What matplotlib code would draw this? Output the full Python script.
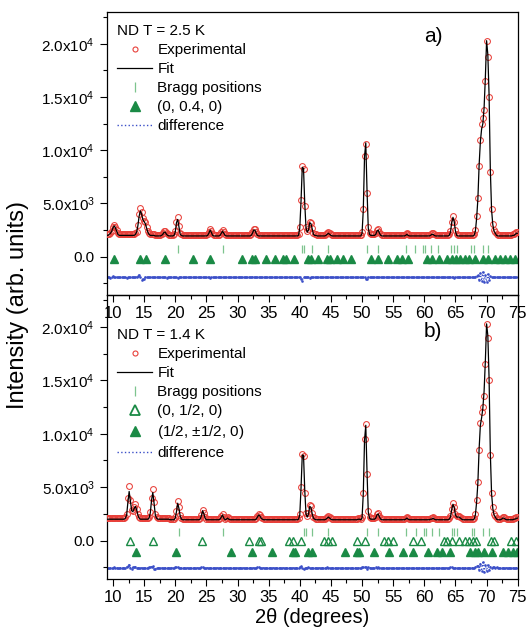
import numpy as np
import matplotlib.pyplot as plt
from matplotlib.ticker import MultipleLocator, FixedLocator, FixedFormatter
from matplotlib.lines import Line2D

plt.rcParams['font.family'] = ['Liberation Sans', 'DejaVu Sans']
plt.rcParams['mathtext.fontset'] = 'custom'
plt.rcParams['mathtext.rm'] = 'Liberation Sans'
plt.rcParams['mathtext.it'] = 'Liberation Sans:italic'

# 2theta grid of the measurement (step 0.2 deg)
tth = np.round(np.arange(9.0, 75.01, 0.2), 1)

# ---- panel a) T = 2.5 K, intensities in units of 100 counts, one row per degree
obs_a = [
    21, 21, 21, 22, 24,  28, 30, 28, 25, 22,  21, 21, 21, 21, 21,  21, 21, 21, 21, 21,   # 9-12
    21, 21, 21, 22, 23,  30, 40, 46, 42, 36,  34, 33, 28, 24, 22,  21, 21, 21, 21, 20,   # 13-16
    20, 20, 20, 20, 21,  22, 24, 24, 22, 21,  20, 20, 20, 20, 21,  24, 33, 37, 29, 22,   # 17-20
    21, 20, 20, 20, 20,  20, 20, 20, 20, 20,  20, 20, 20, 20, 20,  20, 20, 20, 20, 20,   # 21-24
    20, 21, 23, 26, 24,  21, 20, 20, 20, 20,  20, 21, 23, 25, 23,  21, 20, 20, 20, 20,   # 25-28
    20, 20, 20, 20, 20,  20, 20, 20, 20, 20,  20, 20, 20, 20, 20,  20, 21, 23, 26, 26,   # 29-32
    23, 21, 20, 20, 20,  20, 20, 20, 20, 20,  20, 20, 20, 20, 20,  20, 20, 20, 20, 20,   # 33-36
    20, 20, 20, 20, 20,  20, 20, 20, 20, 20,  20, 20, 20, 20, 21,  28, 53, 85, 82, 48,   # 37-40
    28, 24, 26, 33, 32,  27, 22, 21, 21, 20,  20, 20, 20, 20, 20,  20, 21, 22, 23, 22,   # 41-44
    21, 20, 20, 20, 20,  20, 20, 20, 20, 20,  20, 20, 20, 20, 20,  20, 20, 20, 20, 20,   # 45-48
    20, 20, 20, 20, 20,  23, 45, 95, 106, 60, 28, 22, 21, 21, 21,  21, 22, 25, 26, 23,   # 49-52
    21, 20, 20, 20, 20,  20, 20, 20, 20, 20,  20, 20, 20, 20, 20,  20, 20, 20, 20, 20,   # 53-56
    21, 22, 21, 20, 20,  20, 20, 20, 20, 20,  20, 20, 20, 20, 20,  20, 20, 20, 20, 20,   # 57-60
    21, 22, 22, 21, 20,  20, 20, 20, 20, 20,  20, 20, 20, 20, 20,  21, 24, 33, 38, 33,   # 61-64
    25, 21, 20, 20, 20,  20, 20, 20, 20, 20,  20, 20, 20, 20, 20,  21, 25, 38, 55, 85,   # 65-68
    110, 125, 130, 138, 165,  203, 188, 150, 80, 45,  31, 25, 23, 21, 20,  20, 20, 20, 20, 20,  # 69-72
    20, 20, 20, 20, 20,  20, 21, 21, 22, 23,  23]                                         # 73-75
calc_a = [
    20, 20, 21, 22, 24,  27, 29, 27, 24, 21,  20, 20, 20, 20, 20,  20, 20, 20, 20, 20,
    20, 20, 20, 21, 23,  29, 38, 43, 40, 35,  33, 31, 27, 23, 21,  20, 20, 20, 20, 19.5,
    19.5, 19.5, 19.5, 19.5, 20,  21, 23, 23, 21, 20,  19.5, 19.5, 19.5, 19.5, 20,  23, 32, 35, 28, 21,
    20, 19.5, 19.5, 19.5, 19.5,  19.5, 19.5, 19.5, 19.5, 19.5,  19.5, 19.5, 19.5, 19.5, 19.5,  19.5, 19.5, 19.5, 19.5, 19.5,
    19.5, 20, 22, 25, 23,  20, 19.5, 19.5, 19.5, 19.5,  19.5, 20, 22, 24, 22,  20, 19.5, 19.5, 19.5, 19.5,
    19.5, 19.5, 19.5, 19.5, 19.5,  19.5, 19.5, 19.5, 19.5, 19.5,  19.5, 19.5, 19.5, 19.5, 19.5,  19.5, 20, 22, 25, 25,
    22, 20, 19.5, 19.5, 19.5,  19.5, 19.5, 19.5, 19.5, 19.5,  19.5, 19.5, 19.5, 19.5, 19.5,  19.5, 19.5, 19.5, 19.5, 19.5,
    19.5, 19.5, 19.5, 19.5, 19.5,  19.5, 19.5, 19.5, 19.5, 19.5,  19.5, 19.5, 19.5, 19.5, 20,  27, 52, 84, 83, 50,
    27, 23, 25, 32, 31,  26, 21, 20, 20, 19.5,  19.5, 19.5, 19.5, 19.5, 19.5,  19.5, 20, 21, 22, 21,
    20, 19.5, 19.5, 19.5, 19.5,  19.5, 19.5, 19.5, 19.5, 19.5,  19.5, 19.5, 19.5, 19.5, 19.5,  19.5, 19.5, 19.5, 19.5, 19.5,
    19.5, 19.5, 19.5, 19.5, 19.5,  22, 44, 94, 107, 62,  27, 21, 20, 20, 20,  20, 21, 24, 25, 22,
    20, 19.5, 19.5, 19.5, 19.5,  19.5, 19.5, 19.5, 19.5, 19.5,  19.5, 19.5, 19.5, 19.5, 19.5,  19.5, 19.5, 19.5, 19.5, 19.5,
    20, 21, 20, 19.5, 19.5,  19.5, 19.5, 19.5, 19.5, 19.5,  19.5, 19.5, 19.5, 19.5, 19.5,  19.5, 19.5, 19.5, 19.5, 19.5,
    20, 21, 21, 20, 19.5,  19.5, 19.5, 19.5, 19.5, 19.5,  19.5, 19.5, 19.5, 19.5, 19.5,  20, 23, 32, 37, 33,
    24, 20, 19.5, 19.5, 19.5,  19.5, 19.5, 19.5, 19.5, 19.5,  19.5, 19.5, 19.5, 19.5, 19.5,  20, 24, 36, 54, 86,
    108, 120, 125, 140, 168,  203, 190, 152, 82, 44,  30, 24, 22, 20, 19.5,  19.5, 19.5, 19.5, 19.5, 19.5,
    19.5, 19.5, 19.5, 19.5, 19.5,  19.5, 20, 20, 21, 22,  22]
resid_a = [
    0, 0.3, 0, -0.3, 0,  1, 0.5, 0.5, 0, 0,  0, 0, 0.2, 0, 0,  0, -0.2, 0, 0, 0,
    0, 0, 0.3, 0.5, 0.5,  1.5, 2.5, 0, -2, -1.5,  -1, 0.5, 0, 0, 0,  0, 0, 0.2, 0, 0,
    0, 0.2, 0, 0, 0,  0.3, 0, 0, -0.3, 0,  0, 0, 0, 0, 0,  0.3, 0.5, -0.5, 0, 0,
    0, 0, 0, 0.2, 0,  0, 0, 0, 0, 0.2,  0, 0, 0, 0, 0,  0, 0, 0.2, 0, 0,
    0, 0, 0.3, -0.3, 0,  0, 0, 0, 0, 0,  0, 0.2, 0, 0, 0,  0, 0, 0, 0, 0,
    0, 0, 0, 0, 0,  0, 0, 0, 0, 0,  0, 0, 0, 0, 0,  0, 0.3, 0.5, 0, 0,
    0, 0, 0, 0, 0,  0, 0, 0, 0.2, 0,  0, 0, 0, 0, 0,  0, 0, 0, 0, 0,
    0, 0, 0, 0, 0,  0, 0, 0, 0, 0,  0, 0, 0, 0, 0,  0, -1, -3, 0.5, 0,
    0, 0, 0.5, -0.5, 0,  0, 0, 0, 0, 0,  0, 0, 0, 0, 0,  0, 0, 0.3, 0, 0,
    0, 0, 0, 0, 0,  0, 0, 0, 0, 0,  0, 0, 0, 0, 0,  0, 0, 0, 0, 0,
    0, 0, 0, 0, 0,  0.5, 0, 0.5, -1, -1.5,  0.5, 0, 0, 0, 0,  0, 0.5, 0, 0.3, 0,
    0, 0, 0, 0, 0,  0, 0, 0, 0, 0,  0, 0, 0, 0, 0,  0, 0, 0, 0, 0,
    0, 0, 0, 0, 0,  0, 0, 0, 0, 0,  0, 0, 0, 0, 0,  0, 0, 0, 0, 0,
    0, 0.3, 0, 0, 0,  0, 0, 0, 0, 0,  0, 0, 0, 0, 0,  0, 0.5, 0.5, 0, -0.5,
    0, 0, 0, 0, 0,  0, 0, 0, 0, 0,  0, 0, 0, 0, 0,  0, 0.5, 1.5, 2, -2,
    4, -3, 5, -4, 2,  -4, 3, -2, 1, 0,  0.5, 0.3, 0, 0.3, 0,  0, 0, 0, 0, 0,
    0, 0, 0, 0, 0,  0, 0, 0, 0, 0,  0]

bragg_a = [20.5, 27.6, 40.4, 40.7, 41.9, 44.5, 50.8, 52.5, 57.1, 58.5, 59.8, 60.1, 61.1,
           62.2, 64.3, 64.7, 65.2, 67.5, 67.9, 69.4, 70.2]
mag_a = [10.1, 14.3, 15.3, 18.4, 22.9, 25.6, 30.8, 32.3, 32.8, 34.6, 36.1, 37.3, 37.8, 39.1,
         41.4, 41.8, 43.0, 44.3, 44.8, 45.9, 46.9, 48.2, 51.4, 52.6, 54.2, 55.6, 56.4, 57.3,
         60.4, 61.2, 62.3, 63.6, 64.4, 65.1, 65.7, 66.5, 67.1, 68.2, 69.5, 70.3, 71.4, 72.2,
         73.0, 73.8, 74.6]

# ---- panel b) T = 1.4 K
obs_b = [
    21, 21, 21, 21, 21,  21, 21, 21, 21, 21,  21, 21, 21, 21, 21,  22, 25, 40, 51, 38,   # 9-12
    29, 28, 31, 34, 30,  25, 22, 21, 21, 21,  21, 21, 21, 21, 22,  27, 40, 48, 36, 25,   # 13-16
    22, 21, 21, 21, 21,  21, 21, 21, 21, 21,  21, 20, 20, 20, 20,  22, 28, 37, 31, 24,   # 17-20
    21, 20, 20, 20, 20,  20, 20, 20, 20, 20,  20, 20, 20, 20, 20,  21, 24, 29, 26, 22,   # 21-24
    20, 20, 20, 20, 20,  20, 20, 20, 20, 20,  20, 21, 23, 25, 22,  20, 21, 22, 21, 20,   # 25-28
    20, 20, 20, 20, 20,  20, 20, 20, 20, 20,  20, 20, 20, 20, 20,  20, 20, 20, 20, 20,   # 29-32
    21, 23, 25, 24, 22,  21, 20, 20, 20, 20,  20, 20, 20, 20, 20,  20, 20, 20, 20, 20,   # 33-36
    20, 20, 20, 20, 20,  20, 20, 20, 20, 20,  20, 20, 20, 20, 21,  25, 50, 81, 79, 45,   # 37-40
    26, 23, 26, 33, 32,  26, 22, 21, 20, 20,  20, 20, 20, 20, 20,  20, 21, 22, 23, 22,   # 41-44
    21, 20, 20, 20, 20,  20, 20, 20, 20, 20,  20, 20, 20, 20, 20,  20, 20, 20, 20, 20,   # 45-48
    20, 20, 21, 21, 20,  22, 45, 95, 109, 62, 28, 22, 21, 21, 21,  21, 22, 25, 26, 23,   # 49-52
    21, 20, 20, 20, 20,  20, 20, 20, 20, 20,  20, 20, 20, 20, 20,  20, 20, 20, 20, 20,   # 53-56
    21, 22, 21, 20, 20,  20, 20, 20, 20, 20,  20, 20, 20, 20, 20,  20, 20, 20, 20, 20,   # 57-60
    21, 21, 22, 21, 20,  20, 20, 20, 20, 20,  20, 20, 20, 20, 20,  21, 23, 30, 35, 31,   # 61-64
    25, 23, 23, 23, 22,  21, 20, 20, 20, 20,  20, 20, 20, 20, 20,  21, 25, 38, 55, 85,   # 65-68
    110, 120, 125, 135, 165,  203, 190, 150, 80, 45,  31, 25, 23, 21, 20,  20, 20, 21, 22, 22,  # 69-72
    21, 20, 20, 20, 20,  20, 20, 21, 21, 22,  22]                                         # 73-75
calc_b = [
    20, 20, 20, 20, 20,  20, 20, 20, 20, 20,  20, 20, 20, 20, 20,  21, 24, 36, 46, 37,
    28, 27, 30, 32, 29,  24, 21, 20, 20, 20,  20, 20, 20, 20, 21,  26, 38, 45, 35, 24,
    21, 20, 20, 20, 20,  20, 20, 20, 20, 20,  20, 19.5, 19.5, 19.5, 19.5,  21, 27, 35, 30, 23,
    20, 19.5, 19.5, 19.5, 19.5,  19.5, 19.5, 19.5, 19.5, 19.5,  19.5, 19.5, 19.5, 19.5, 19.5,  20, 23, 28, 25, 21,
    19.5, 19.5, 19.5, 19.5, 19.5,  19.5, 19.5, 19.5, 19.5, 19.5,  19.5, 20, 22, 24, 21,  19.5, 20, 21, 20, 19.5,
    19.5, 19.5, 19.5, 19.5, 19.5,  19.5, 19.5, 19.5, 19.5, 19.5,  19.5, 19.5, 19.5, 19.5, 19.5,  19.5, 19.5, 19.5, 19.5, 19.5,
    20, 22, 24, 23, 21,  20, 19.5, 19.5, 19.5, 19.5,  19.5, 19.5, 19.5, 19.5, 19.5,  19.5, 19.5, 19.5, 19.5, 19.5,
    19.5, 19.5, 19.5, 19.5, 19.5,  19.5, 19.5, 19.5, 19.5, 19.5,  19.5, 19.5, 19.5, 19.5, 20,  24, 49, 80, 80, 47,
    25, 22, 25, 32, 31,  25, 21, 20, 19.5, 19.5,  19.5, 19.5, 19.5, 19.5, 19.5,  19.5, 20, 21, 22, 21,
    20, 19.5, 19.5, 19.5, 19.5,  19.5, 19.5, 19.5, 19.5, 19.5,  19.5, 19.5, 19.5, 19.5, 19.5,  19.5, 19.5, 19.5, 19.5, 19.5,
    19.5, 19.5, 20, 20, 19.5,  21, 44, 94, 108, 64,  27, 21, 20, 20, 20,  20, 21, 24, 25, 22,
    20, 19.5, 19.5, 19.5, 19.5,  19.5, 19.5, 19.5, 19.5, 19.5,  19.5, 19.5, 19.5, 19.5, 19.5,  19.5, 19.5, 19.5, 19.5, 19.5,
    20, 21, 20, 19.5, 19.5,  19.5, 19.5, 19.5, 19.5, 19.5,  19.5, 19.5, 19.5, 19.5, 19.5,  19.5, 19.5, 19.5, 19.5, 19.5,
    20, 20, 21, 20, 19.5,  19.5, 19.5, 19.5, 19.5, 19.5,  19.5, 19.5, 19.5, 19.5, 19.5,  20, 22, 29, 34, 31,
    24, 22, 22, 22, 21,  20, 19.5, 19.5, 19.5, 19.5,  19.5, 19.5, 19.5, 19.5, 19.5,  20, 24, 36, 54, 86,
    108, 115, 124, 140, 168,  203, 192, 152, 82, 44,  30, 24, 22, 20, 19.5,  19.5, 19.5, 20, 21, 21,
    20, 19.5, 19.5, 19.5, 19.5,  19.5, 19.5, 20, 20, 21,  21]
resid_b = [
    0, 0.2, 0, -0.2, 0,  0, 0.3, 0, 0, 0,  0, 0, 0.2, 0, 0,  0, 0.5, 2, 3, 0,
    -1, 0.5, 0.5, 1, 0,  0, 0, 0, 0, 0,  0, 0, 0, 0.2, 0.3,  0.5, 1, 1.5, -1, -1.5,
    0, 0, 0, 0.2, 0,  0, 0, 0, 0, 0,  0, 0, 0.2, 0, 0,  0.3, 0.5, 0.8, -0.5, 0,
    0, 0, 0, 0, 0,  0, 0.2, 0, 0, 0,  0, 0, 0, 0, 0,  0, 0.3, 0.5, 0, 0,
    0, 0, 0, 0, 0,  0, 0, 0, 0.2, 0,  0, 0, 0.2, 0, 0,  0, 0, 0, 0, 0,
    0, 0, 0, 0, 0,  0, 0, 0, 0, 0,  0, 0, 0, 0, 0,  0, 0, 0, 0, 0,
    0, 0.3, 0.5, 0.2, 0,  0, 0, 0, 0, 0,  0, 0, 0, 0, 0,  0, 0, 0, 0, 0,
    0, 0, 0, 0, 0,  0, 0, 0, 0, 0,  0, 0, 0, 0, 0,  0.5, 2, 0, -1.5, -0.5,
    0, 0, 0.5, -0.3, 0,  0, 0, 0, 0, 0,  0, 0, 0, 0, 0,  0, 0, 0.3, 0, 0,
    0, 0, 0, 0, 0,  0, 0, 0, 0, 0,  0, 0, 0, 0, 0,  0, 0, 0, 0, 0,
    0, 0, 0, 0, 0,  0.5, 0.3, 0.5, 0.5, -1,  0.5, 0, 0, 0, 0,  0, 0.5, 0, 0.3, 0,
    0, 0, 0, 0, 0,  0, 0, 0, 0, 0,  0, 0, 0, 0, 0,  0, 0, 0, 0, 0,
    0, 0, 0, 0, 0,  0, 0, 0, 0, 0,  0, 0, 0, 0, 0,  0, 0, 0, 0, 0,
    0, 0, 0, 0, 0,  0, 0, 0, 0, 0,  0, 0, 0, 0, 0,  0, 0.5, 0.5, 0, -0.5,
    0, 0, 0, 0, 0,  0, 0, 0, 0, 0,  0, 0, 0, 0, 0,  0, 0.5, 1.5, 2, -2,
    4, -3, 5, -4, 3,  -3, 3, -2, 1, 0,  0.5, 0.3, 0, 0.3, 0,  0, 0, 0, 0, 0,
    0, 0, 0, 0, 0,  0, 0, 0, 0, 0,  0]

bragg_b = [20.6, 27.7, 40.6, 41.0, 41.9, 44.6, 50.8, 52.6, 57.1, 58.7, 59.9, 60.2, 61.2,
           62.3, 64.4, 64.8, 65.3, 67.6, 68.0, 69.5, 70.4]
mag_b1 = [12.8, 16.4, 24.3, 31.9, 33.4, 33.8, 38.2, 38.9, 40.2, 43.9, 44.6, 45.1, 49.2,
          50.5, 53.5, 54.1, 54.9, 58.2, 59.4, 63.1, 63.7, 64.4, 65.6, 66.5, 67.2, 67.8,
          68.3, 70.7, 71.2, 74.0, 74.8]
mag_b2 = [13.7, 20.2, 28.9, 32.3, 35.6, 38.9, 39.3, 41.4, 42.0, 47.3, 49.2, 49.5, 52.0,
          54.4, 56.5, 58.2, 60.6, 62.1, 62.9, 64.1, 67.4, 68.2, 68.7, 69.6, 70.8, 72.7,
          73.5, 74.3, 74.9]

red = '#e8403a'
green = '#1a8a45'
lgreen = '#7dc48e'
blue = '#3b4fc8'

fig = plt.figure(figsize=(5.31, 6.29), dpi=100)
ax1 = fig.add_axes([0.201, 0.531, 0.774, 0.450])
ax2 = fig.add_axes([0.201, 0.0795, 0.774, 0.4515])
ax1.set_zorder(3)
ax1.patch.set_alpha(0)


def style_axis(ax):
    ax.set_xlim(9, 75)
    ax.set_ylim(-3600, 23000)
    ax.xaxis.set_major_locator(MultipleLocator(5))
    ax.xaxis.set_minor_locator(MultipleLocator(2.5))
    ticks = [0, 5000, 10000, 15000, 20000]
    ax.yaxis.set_major_locator(FixedLocator(ticks))
    ax.yaxis.set_major_formatter(FixedFormatter(
        ['0.0', r'5.0x10$^3$', r'1.0x10$^4$', r'1.5x10$^4$', r'2.0x10$^4$']))
    ax.yaxis.set_minor_locator(MultipleLocator(2500))
    ax.tick_params(which='major', direction='out', length=5, width=0.8, labelsize=11)
    ax.tick_params(which='minor', direction='out', length=3, width=0.8)
    ax.tick_params(axis='x', labelsize=12, pad=3)
    for s in ax.spines.values():
        s.set_linewidth(0.9)


def draw(ax, obs, calc, resid, diff_off, bragg, bragg_y):
    ax.plot(tth, np.array(obs) * 100, ls='none', marker='o', ms=4.2, mfc='none',
            mec=red, mew=0.75, zorder=3)
    ax.plot(tth, np.array(calc) * 100, color='black', lw=0.9, zorder=4)
    ax.plot(tth, np.array(resid) * 100 + diff_off, ls=':', color=blue, lw=0.9,
            marker='s', ms=0.8, zorder=2)
    ax.plot(bragg, [bragg_y] * len(bragg), ls='none', marker='|', ms=6, mew=0.9,
            color=lgreen, zorder=2)


h_exp = Line2D([], [], ls='none', marker='o', ms=3.6, mfc='none', mec=red, mew=0.8)
h_fit = Line2D([], [], color='black', lw=0.9)
h_bragg = Line2D([], [], ls='none', marker='|', ms=7, mew=0.9, color=lgreen)
h_full = Line2D([], [], ls='none', marker='^', ms=7, color=green)
h_open = Line2D([], [], ls='none', marker='^', ms=7, mfc='none', mec=green, mew=1.3)
h_diff = Line2D([], [], ls=':', color=blue, lw=1.0)

leg_kw = dict(loc='upper left', frameon=False, fontsize=11, title_fontsize=11,
              alignment='left', labelspacing=0.33, handlelength=2.3, handletextpad=0.35,
              borderaxespad=0.0, borderpad=0.0)

# panel a
style_axis(ax1)
draw(ax1, obs_a, calc_a, resid_a, -1950, bragg_a, 700)
ax1.plot(mag_a, [-200] * len(mag_a), ls='none', marker='^', ms=5.2, color=green, zorder=2)
ax1.legend([h_exp, h_fit, h_bragg, h_full, h_diff],
           ['Experimental', 'Fit', 'Bragg positions', '(0, 0.4, 0)', 'difference'],
           title='ND T = 2.5 K', bbox_to_anchor=(0.025, 0.958), **leg_kw)
ax1.text(0.794, 0.912, 'a)', transform=ax1.transAxes, fontsize=15, ha='center', va='center')

# panel b
style_axis(ax2)
draw(ax2, obs_b, calc_b, resid_b, -2550, bragg_b, 800)
ax2.plot(mag_b1, [0] * len(mag_b1), ls='none', marker='^', ms=5.2, mfc='none',
         mec=green, mew=1.0, zorder=2)
ax2.plot(mag_b2, [-1050] * len(mag_b2), ls='none', marker='^', ms=5.2, color=green, zorder=2)
ax2.legend([h_exp, h_fit, h_bragg, h_open, h_full, h_diff],
           ['Experimental', 'Fit', 'Bragg positions', '(0, 1/2, 0)', r'(1/2, $\pm$1/2, 0)',
            'difference'],
           title='ND T = 1.4 K', bbox_to_anchor=(0.025, 0.884), **leg_kw)
ax2.text(0.794, 0.872, 'b)', transform=ax2.transAxes, fontsize=15, ha='center', va='center')

fig.text(0.588, 0.019, '2\u03b8 (degrees)', fontsize=14.5, ha='center', va='center')
fig.text(0.034, 0.515, 'Intensity (arb. units)', rotation=90, fontsize=17,
         ha='center', va='center')

fig.savefig('out.png', dpi=100)
